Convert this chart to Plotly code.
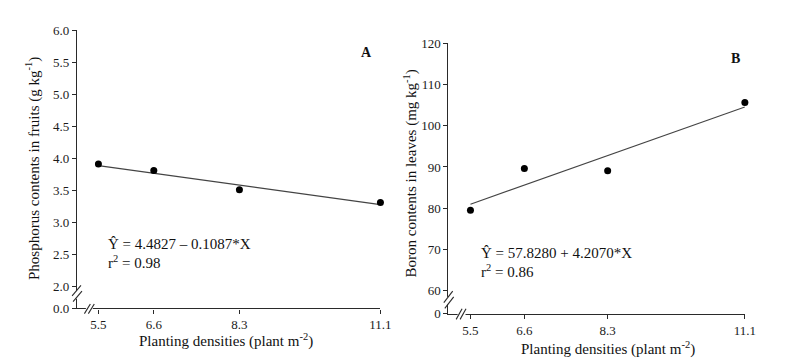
import plotly.graph_objects as go

W, H = 787, 363

# ---- data ----
densities = [5.5, 6.6, 8.3, 11.1]
phosphorus = [3.91, 3.81, 3.51, 3.31]
boron = [79.5, 89.6, 89.1, 105.6]
fit_x = [5.5, 11.1]
fit_phosphorus = [3.885, 3.276]
fit_boron = [80.97, 104.53]
x_ticks = [5.5, 6.6, 8.3, 11.1]
x_tick_labels = ["5.5", "6.6", "8.3", "11.1"]
yA_ticks = [1.656, 2.0, 2.5, 3.0, 3.5, 4.0, 4.5, 5.0, 5.5, 6.0]
yA_labels = ["0.0", "2.0", "2.5", "3.0", "3.5", "4.0", "4.5", "5.0", "5.5", "6.0"]
yB_ticks = [54.43, 60, 70, 80, 90, 100, 110, 120]
yB_labels = ["0", "60", "70", "80", "90", "100", "110", "120"]

FONT = "Liberation Serif"
AX = "#2a2a2a"


def px(x):
    return x / W


def py(y):
    return 1 - y / H


fig = go.Figure()
fig.add_trace(go.Scatter(x=fit_x, y=fit_phosphorus, mode="lines",
                         line=dict(color="#444", width=1.2), xaxis="x", yaxis="y",
                         showlegend=False, hoverinfo="skip"))
fig.add_trace(go.Scatter(x=densities, y=phosphorus, mode="markers",
                         marker=dict(color="black", size=7), xaxis="x", yaxis="y",
                         showlegend=False, cliponaxis=False))
fig.add_trace(go.Scatter(x=fit_x, y=fit_boron, mode="lines",
                         line=dict(color="#444", width=1.2), xaxis="x2", yaxis="y2",
                         showlegend=False, hoverinfo="skip"))
fig.add_trace(go.Scatter(x=densities, y=boron, mode="markers",
                         marker=dict(color="black", size=7), xaxis="x2", yaxis="y2",
                         showlegend=False, cliponaxis=False))

axis_common = dict(showgrid=False, zeroline=False, showline=True, linecolor=AX,
                   linewidth=1.3, ticks="outside", ticklen=4, tickcolor=AX,
                   tickwidth=1, tickfont=dict(family=FONT, size=13, color="#1a1a1a"))

fig.update_layout(
    width=W, height=H, margin=dict(l=0, r=0, t=0, b=0),
    paper_bgcolor="white", plot_bgcolor="white",
    xaxis=dict(domain=[px(70), px(377.7)], range=[5.075, 11.1], anchor="y",
               tickvals=x_ticks, ticktext=x_tick_labels, **axis_common),
    yaxis=dict(domain=[py(306), py(16)], range=[1.656, 6.0], anchor="x",
               tickvals=yA_ticks, ticktext=yA_labels, **axis_common),
    xaxis2=dict(domain=[px(446.7), px(747.3)], range=[5.051, 11.1], anchor="y2",
                tickvals=x_ticks, ticktext=x_tick_labels, **axis_common),
    yaxis2=dict(domain=[py(311.7), py(29.3)], range=[54.43, 120], anchor="x2",
                tickvals=yB_ticks, ticktext=yB_labels, **axis_common),
)

ann = []


def text(x, y, s, size=15, xanchor="center", angle=0):
    ann.append(dict(x=px(x), y=py(y), xref="paper", yref="paper", text=s,
                    showarrow=False, xanchor=xanchor, yanchor="middle",
                    textangle=angle,
                    font=dict(family=FONT, size=size, color="#111")))


text(221, 340, "Planting densities (plant m<sup>-2</sup>)", 15)
text(25, 160, "Phosphorus contents in fruits (g kg<sup>-1</sup>)", 15, angle=-90)
text(364, 39, "<b>A</b>", 14)
text(99, 239, "Ŷ = 4.4827 – 0.1087*X", 15, xanchor="left")
text(99, 258, "r<sup>2</sup> = 0.98", 15, xanchor="left")

text(609, 348, "Planting densities (plant m<sup>-2</sup>)", 15)
text(408, 165, "Boron contents in leaves (mg kg<sup>-1</sup>)", 15, angle=-90)
text(738, 45, "<b>B</b>", 14)
text(478, 248, "Ŷ = 57.8280 + 4.2070*X", 15, xanchor="left")
text(478, 267, "r<sup>2</sup> = 0.86", 15, xanchor="left")
fig.update_layout(annotations=ann)

shapes = []


def rect(x0, y0, x1, y1):
    shapes.append(dict(type="rect", xref="paper", yref="paper", x0=px(x0), x1=px(x1),
                       y0=py(y1), y1=py(y0), fillcolor="white", line=dict(width=0),
                       layer="above"))


def seg(x0, y0, x1, y1):
    shapes.append(dict(type="line", xref="paper", yref="paper", x0=px(x0), y0=py(y0),
                       x1=px(x1), y1=py(y1), line=dict(color=AX, width=1.1),
                       layer="above"))


# breaks panel A
rect(68, 288, 72, 296)
seg(65, 293, 74, 282)
seg(66, 299, 75, 288)
rect(79, 304.5, 86, 307.5)
seg(77.5, 311.5, 83.5, 301.5)
seg(81.5, 311.5, 87.5, 301.5)
# breaks panel B
rect(444.7, 294, 448.7, 302)
seg(442, 300, 451, 288)
seg(443, 306, 452, 294)
rect(456, 310.2, 464, 313.2)
seg(454.5, 317.5, 460.5, 306.5)
seg(458.5, 317.5, 464.5, 306.5)
fig.update_layout(shapes=shapes)

fig.write_html("out.html")
